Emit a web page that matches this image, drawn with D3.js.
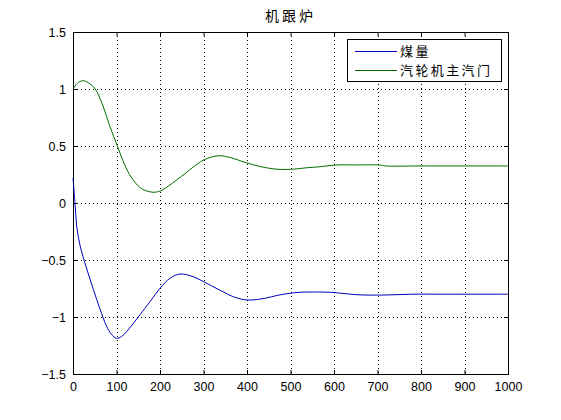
<!DOCTYPE html>
<html>
<head>
<meta charset="utf-8">
<script src="https://cdn.jsdelivr.net/npm/d3@7"></script>
<style>
  body { margin: 0; background: #fff; }
  svg { display: block; }
  .tick text { font-family: "Liberation Sans", Arial, sans-serif; font-size: 12.5px; fill: #000; }
</style>
</head>
<body>
<svg id="s" width="561" height="420"></svg>
<script>
const title = '机跟炉';
const seriesNames = ['煤量', '汽轮机主汽门'];
const seriesColors = ['#0000c0', '#006f00'];
const xTicks = [0, 100, 200, 300, 400, 500, 600, 700, 800, 900, 1000];
const yTicks = [-1.5, -1, -0.5, 0, 0.5, 1, 1.5];

// coal (blue)
const coalT = [0, 4.6, 8.4, 16, 31, 47, 62, 77, 88, 100, 112, 124, 140, 154, 177, 200, 223, 246, 276, 300, 338, 372, 402, 441, 470, 499, 522, 560, 591, 625, 660, 720, 779, 850, 1000];
const coalV = [0.22, 0, -0.2, -0.37, -0.57, -0.76, -0.93, -1.08, -1.15, -1.187, -1.17, -1.125, -1.05, -0.98, -0.866, -0.748, -0.66, -0.623, -0.646, -0.69, -0.765, -0.827, -0.851, -0.836, -0.81, -0.792, -0.783, -0.781, -0.783, -0.795, -0.806, -0.807, -0.8, -0.8, -0.8];
// turbine main valve (green)
const valveT = [0, 10, 22, 35, 51, 68, 85, 102, 115, 130, 145, 160, 175, 188, 205, 220, 238, 260, 276, 299, 320, 338, 365, 395, 430, 464, 490, 510, 540, 568, 602, 650, 706, 718, 800, 1000];
const valveV = [1.0, 1.05, 1.073, 1.055, 1.0, 0.86, 0.67, 0.5, 0.37, 0.25, 0.17, 0.12, 0.1, 0.094, 0.113, 0.15, 0.202, 0.265, 0.315, 0.375, 0.405, 0.415, 0.395, 0.357, 0.32, 0.298, 0.294, 0.298, 0.31, 0.318, 0.333, 0.334, 0.333, 0.325, 0.325, 0.325];

const svg = d3.select('#s');
const margin = { left: 73, top: 32, right: 53, bottom: 46 };
const W = 561 - margin.left - margin.right;
const H = 420 - margin.top - margin.bottom;

const x = d3.scaleLinear().domain([0, 1000]).range([0, W]);
const y = d3.scaleLinear().domain([-1.5, 1.5]).range([H, 0]);

svg.append('text')
  .attr('x', margin.left + W / 2)
  .attr('y', 21)
  .attr('text-anchor', 'middle')
  .attr('font-family', '"Noto Sans CJK SC", sans-serif')
  .attr('font-size', 14)
  .attr('letter-spacing', 3)
  .text(title);

const g = svg.append('g').attr('transform', `translate(${margin.left},${margin.top})`);

// grid
g.append('g').selectAll('line').data(xTicks.slice(1, -1)).join('line')
  .attr('x1', d => Math.round(x(d)) + 0.5).attr('x2', d => Math.round(x(d)) + 0.5)
  .attr('y1', 0).attr('y2', H)
  .attr('stroke', '#000').attr('stroke-dasharray', '1,3');
g.append('g').selectAll('line').data(yTicks.slice(1, -1)).join('line')
  .attr('y1', d => Math.round(y(d)) + 0.5).attr('y2', d => Math.round(y(d)) + 0.5)
  .attr('x1', 0).attr('x2', W)
  .attr('stroke', '#000').attr('stroke-dasharray', '1,3');

// axes, ticks inside
const xAxis = g.append('g').attr('transform', `translate(0,${H})`)
  .call(d3.axisBottom(x).tickValues(xTicks).tickSizeInner(-4).tickSizeOuter(0).tickPadding(8).tickFormat(d3.format('d')));
const xTop = g.append('g')
  .call(d3.axisTop(x).tickValues(xTicks).tickSizeInner(-4).tickSizeOuter(0).tickFormat(''));
const yAxis = g.append('g')
  .call(d3.axisLeft(y).tickValues(yTicks).tickSizeInner(-4).tickSizeOuter(0).tickPadding(7).tickFormat(d => d3.format('')(d)));
const yRight = g.append('g').attr('transform', `translate(${W},0)`)
  .call(d3.axisRight(y).tickValues(yTicks).tickSizeInner(-4).tickSizeOuter(0).tickFormat(''));
[xAxis, xTop, yAxis, yRight].forEach(a => {
  a.select('.domain').remove();
  a.selectAll('line').attr('stroke', '#000');
});

g.append('rect').attr('x', 0.5).attr('y', 0.5).attr('width', W).attr('height', H)
  .attr('fill', 'none').attr('stroke', '#000');

const line = d3.line().x(d => x(d[0])).y(d => y(d[1])).curve(d3.curveCatmullRom.alpha(0.5));
const series = [d3.zip(coalT, coalV), d3.zip(valveT, valveV)];
g.selectAll('path.s').data(series).join('path')
  .attr('class', 's')
  .attr('d', line)
  .attr('fill', 'none')
  .attr('stroke', (d, i) => seriesColors[i])
  .attr('stroke-width', 1);

// legend
const lg = svg.append('g');
lg.append('rect').attr('x', 347.5).attr('y', 39.5).attr('width', 154).attr('height', 42)
  .attr('fill', '#fff').attr('stroke', '#000');
seriesNames.forEach((n, i) => {
  const yy = 51 + i * 19;
  lg.append('line').attr('x1', 355).attr('x2', 397).attr('y1', yy + 0.5).attr('y2', yy + 0.5)
    .attr('stroke', seriesColors[i]);
  lg.append('text').attr('x', 400).attr('y', yy + 5)
    .attr('font-family', '"Noto Sans CJK SC", sans-serif')
    .attr('font-size', 13).attr('letter-spacing', 2.4)
    .text(n);
});
</script>
</body>
</html>
